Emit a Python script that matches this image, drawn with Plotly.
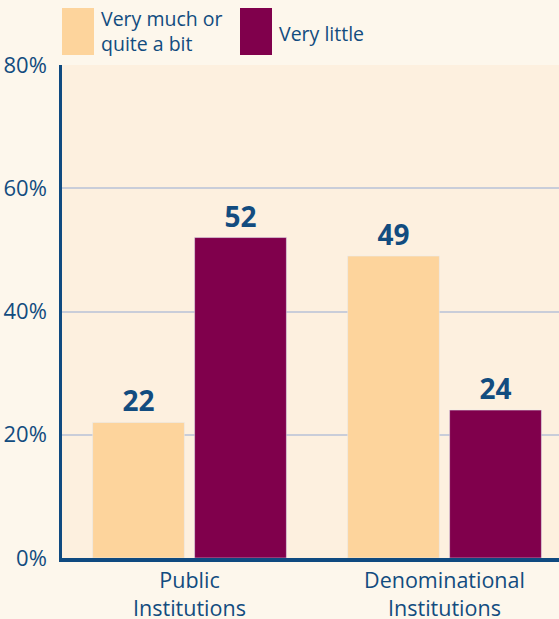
import plotly.graph_objects as go

categories = ["Public<br>Institutions", "Denominational<br>Institutions"]
series_names = ["Very much or quite a bit", "Very little"]
very_much = [22, 49]
very_little = [52, 24]
y_ticks = [0, 20, 40, 60, 80]
y_tick_labels = ["0%", "20%", "40%", "60%", "80%"]

ORANGE = "#FDD49C"
PURPLE = "#80004C"
TEXT = "#124C7F"
AXIS = "#0F4A80"
GRID = "#C9CDD9"
PLOT_BG = "#FDF0DF"
PAPER_BG = "#FDF7EC"
FONT = "Open Sans"

W, H = 559, 619
ML, MR, MT, MB = 62, 0, 65, 61
PW = W - ML - MR
PH = H - MT - MB

fig = go.Figure()
xs = [0, 1]
fig.add_trace(go.Bar(
    x=xs, y=very_much, name=series_names[0], marker_color=ORANGE,
    width=0.36, offset=-0.38,
    text=[str(v) for v in very_much], textposition="outside",
    textfont=dict(family=FONT, size=28, color=TEXT, weight=700),
    cliponaxis=False, showlegend=False,
))
fig.add_trace(go.Bar(
    x=xs, y=very_little, name=series_names[1], marker_color=PURPLE,
    width=0.36, offset=0.02,
    text=[str(v) for v in very_little], textposition="outside",
    textfont=dict(family=FONT, size=28, color=TEXT, weight=700),
    cliponaxis=False, showlegend=False,
))

fig.update_layout(
    width=W, height=H,
    margin=dict(l=ML, r=MR, t=MT, b=MB, pad=0),
    paper_bgcolor=PAPER_BG, plot_bgcolor=PLOT_BG,
    barmode="overlay",
    font=dict(family=FONT, color=TEXT),
    xaxis=dict(
        range=[-0.5, -0.5 + PW / 255.0],
        tickmode="array", tickvals=xs, ticktext=categories,
        tickfont=dict(size=21.5, color=TEXT),
        showgrid=False, zeroline=False,
        showline=True, linecolor=AXIS, linewidth=4,
        ticks="", ticklen=0, automargin=False,
    ),
    yaxis=dict(
        range=[0, 80],
        tickmode="array", tickvals=y_ticks, ticktext=y_tick_labels,
        tickfont=dict(size=22, color=TEXT),
        showgrid=True, gridcolor=GRID, gridwidth=1.5,
        zeroline=False,
        showline=True, linecolor=AXIS, linewidth=2.5,
        ticks="", ticklen=0, ticklabelstandoff=8, automargin=False,
    ),
)

def px_x(p):
    return (p - ML) / PW

def px_y(p):
    return (H - MB - p) / PH

# legend swatches
fig.add_shape(type="rect", xref="paper", yref="paper",
              x0=px_x(62), x1=px_x(94), y0=px_y(55), y1=px_y(8),
              fillcolor=ORANGE, line_width=0)
fig.add_shape(type="rect", xref="paper", yref="paper",
              x0=px_x(240), x1=px_x(272), y0=px_y(55), y1=px_y(8),
              fillcolor=PURPLE, line_width=0)
fig.add_annotation(xref="paper", yref="paper", x=px_x(99), y=px_y(31),
                   xanchor="left", yanchor="middle", align="left",
                   text="Very much or<br>quite a bit", showarrow=False,
                   font=dict(family=FONT, size=19.5, color=TEXT))
fig.add_annotation(xref="paper", yref="paper", x=px_x(277), y=px_y(33),
                   xanchor="left", yanchor="middle", align="left",
                   text="Very little", showarrow=False,
                   font=dict(family=FONT, size=19.5, color=TEXT))

fig.write_html("out.html", config={"displayModeBar": False},
               post_script="document.body.style.margin='0';document.body.style.overflow='hidden';")
